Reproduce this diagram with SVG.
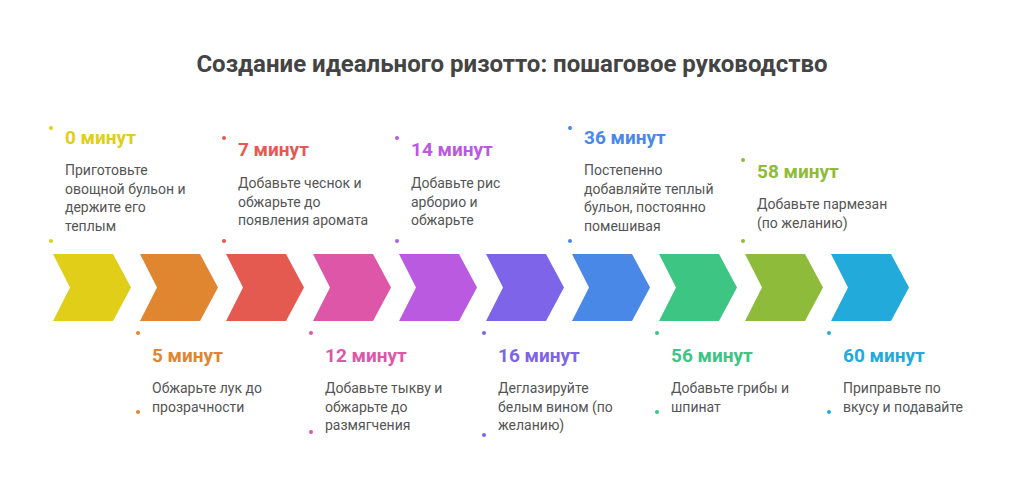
<svg xmlns="http://www.w3.org/2000/svg" width="1024" height="495" viewBox="0 0 1024 495">
<style>
.h{font:bold 24px Roboto,"Liberation Sans",sans-serif;fill:#444;text-anchor:middle}
.t{font:bold 19px Roboto,"Liberation Sans",sans-serif}
.d{font:14px Roboto,"Liberation Sans",sans-serif;fill:#555}
</style>
<defs><path id="ch" d="M0,0H60L78,33.5L60,67H0L17,33.5Z"/></defs>
<rect width="1024" height="495" fill="#fff"/>
<text class="h" x="512" y="72">Создание идеального ризотто: пошаговое руководство</text>
<g id="connectors">
<use href="#ch" x="53" y="254" fill="#E0CE18"/>
<use href="#ch" x="140" y="254" fill="#E08530"/>
<use href="#ch" x="226" y="254" fill="#E55A50"/>
<use href="#ch" x="313" y="254" fill="#DD56A8"/>
<use href="#ch" x="399" y="254" fill="#B95AE0"/>
<use href="#ch" x="486" y="254" fill="#7E64E8"/>
<use href="#ch" x="572" y="254" fill="#4A88E8"/>
<use href="#ch" x="659" y="254" fill="#3CC583"/>
<use href="#ch" x="745" y="254" fill="#8EBB3A"/>
<use href="#ch" x="831" y="254" fill="#22AADB"/>
</g>
<g id="s0" fill="#E0CE18"><circle cx="51" cy="128" r="2"/><circle cx="51" cy="241" r="2"/><text class="t" x="65" y="144">0 минут</text><text class="d" x="65" y="175">Приготовьте<tspan x="65" dy="18.5">овощной бульон и</tspan><tspan x="65" dy="18.5">держите его</tspan><tspan x="65" dy="18.5">теплым</tspan></text></g>
<g id="s1" fill="#E08530"><circle cx="138" cy="333" r="2"/><circle cx="138" cy="412" r="2"/><text class="t" x="152" y="362">5 минут</text><text class="d" x="152" y="393">Обжарьте лук до<tspan x="152" dy="18.5">прозрачности</tspan></text></g>
<g id="s2" fill="#E55A50"><circle cx="224" cy="138" r="2"/><circle cx="224" cy="241" r="2"/><text class="t" x="238" y="156">7 минут</text><text class="d" x="238" y="188">Добавьте чеснок и<tspan x="238" dy="18.5">обжарьте до</tspan><tspan x="238" dy="18.5">появления аромата</tspan></text></g>
<g id="s3" fill="#DD56A8"><circle cx="311" cy="333" r="2"/><circle cx="311" cy="432" r="2"/><text class="t" x="325" y="362">12 минут</text><text class="d" x="325" y="393">Добавьте тыкву и<tspan x="325" dy="18.5">обжарьте до</tspan><tspan x="325" dy="18.5">размягчения</tspan></text></g>
<g id="s4" fill="#B95AE0"><circle cx="397" cy="138" r="2"/><circle cx="397" cy="241" r="2"/><text class="t" x="411" y="156">14 минут</text><text class="d" x="411" y="188">Добавьте рис<tspan x="411" dy="18.5">арборио и</tspan><tspan x="411" dy="18.5">обжарьте</tspan></text></g>
<g id="s5" fill="#7E64E8"><circle cx="484" cy="333" r="2"/><circle cx="484" cy="435" r="2"/><text class="t" x="498" y="362">16 минут</text><text class="d" x="498" y="393">Деглазируйте<tspan x="498" dy="18.5">белым вином (по</tspan><tspan x="498" dy="18.5">желанию)</tspan></text></g>
<g id="s6" fill="#4A88E8"><circle cx="570" cy="128" r="2"/><circle cx="570" cy="241" r="2"/><text class="t" x="584" y="144">36 минут</text><text class="d" x="584" y="175">Постепенно<tspan x="584" dy="18.5">добавляйте теплый</tspan><tspan x="584" dy="18.5">бульон, постоянно</tspan><tspan x="584" dy="18.5">помешивая</tspan></text></g>
<g id="s7" fill="#3CC583"><circle cx="657" cy="333" r="2"/><circle cx="657" cy="412" r="2"/><text class="t" x="671" y="362">56 минут</text><text class="d" x="671" y="393">Добавьте грибы и<tspan x="671" dy="18.5">шпинат</tspan></text></g>
<g id="s8" fill="#8EBB3A"><circle cx="743" cy="160" r="2"/><circle cx="743" cy="241" r="2"/><text class="t" x="757" y="178">58 минут</text><text class="d" x="757" y="209">Добавьте пармезан<tspan x="757" dy="18.5">(по желанию)</tspan></text></g>
<g id="s9" fill="#22AADB"><circle cx="829" cy="333" r="2"/><circle cx="829" cy="412" r="2"/><text class="t" x="843" y="362">60 минут</text><text class="d" x="843" y="393">Приправьте по<tspan x="843" dy="18.5">вкусу и подавайте</tspan></text></g>
</svg>
